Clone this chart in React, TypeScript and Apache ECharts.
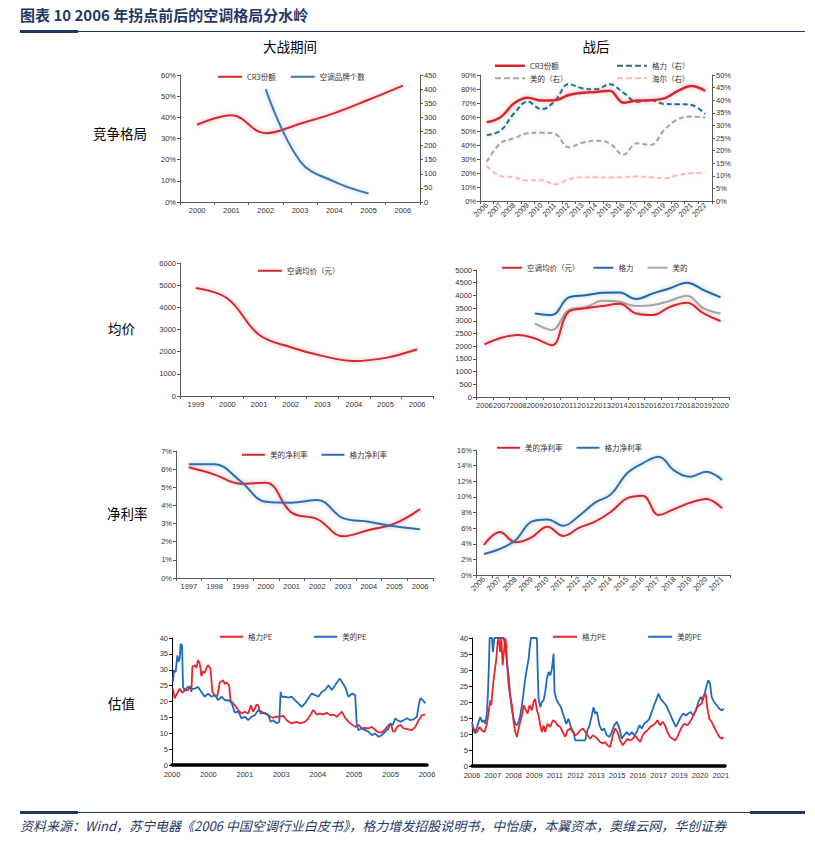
import React, { useEffect, useRef } from 'react';
import * as echarts from 'echarts';

// ---------- Data ----------
// Row 1 left: 大战期间 竞争格局
const warYears = ['2000', '2001', '2002', '2003', '2004', '2005', '2006'];
const warCr3 = [36.5, 41, 32.5, 37, 42, 48.3, 55];
const warBrandCount = [null, null, 400, 145, 72, 30, null];

// Row 1 right: 战后 竞争格局
const postYears = ['2006', '2007', '2008', '2009', '2010', '2011', '2012', '2013', '2014', '2015', '2016', '2017', '2018', '2019', '2020', '2021', '2022'];
const postCr3 = [56.2, 59.8, 69.8, 73.8, 71.7, 72, 75.7, 77.4, 77.9, 78.8, 70.2, 71.7, 72, 73.3, 78.6, 82.1, 78.6];
const postGreeShare = [26.2, 27.9, 34.8, 39.4, 36.4, 39.8, 46.4, 44.7, 44.3, 46.3, 43, 39.4, 40.1, 38.5, 38.4, 38.1, 34.5];
const postMideaShare = [15.6, 22.9, 24.9, 26.9, 27.1, 26.6, 21.3, 23.1, 23.9, 22.9, 18.3, 22.9, 22.2, 28.2, 32.4, 33.5, 33.1];
const postHaierShare = [13.9, 9.9, 9.4, 8.1, 8.3, 6.6, 8.6, 9.4, 9.4, 9.3, 9.4, 9.7, 9.4, 9.0, 10.3, 11.0, 11.2];

// Row 2 left: 大战期间 均价
const warPriceYears = ['1999', '2000', '2001', '2002', '2003', '2004', '2005', '2006'];
const warAcPrice = [4870, 4400, 2760, 2200, 1810, 1580, 1720, 2110];

// Row 2 right: 战后 均价
const postPriceYears = ['2006', '2007', '2008', '2009', '2010', '2011', '2012', '2013', '2014', '2015', '2016', '2017', '2018', '2019', '2020'];
const postAcPrice = [2070, 2330, 2440, 2300, 2040, 3360, 3490, 3580, 3670, 3290, 3230, 3550, 3710, 3290, 2990];
const postGreePrice = [null, null, null, 3290, 3230, 3920, 4010, 4100, 4110, 3860, 4080, 4280, 4500, 4210, 3920];
const postMideaPrice = [null, null, null, 2900, 2640, 3420, 3530, 3790, 3750, 3580, 3620, 3790, 3990, 3490, 3290];

// Row 3 left: 大战期间 净利率
const warMarginYears = ['1997', '1998', '1999', '2000', '2001', '2002', '2003', '2004', '2005', '2006'];
const warMideaMargin = [6.1, 5.7, 5.2, 5.25, 3.6, 3.25, 2.3, 2.65, 3.0, 3.8];
const warGreeMargin = [6.27, 6.27, 5.35, 4.2, 4.15, 4.3, 3.3, 3.1, 2.85, 2.68];

// Row 3 right: 战后 净利率
const postMarginYears = ['2006', '2007', '2008', '2009', '2010', '2011', '2012', '2013', '2014', '2015', '2016', '2017', '2018', '2019', '2020', '2021'];
const postMideaMargin = [3.84, 5.5, 4.18, 4.82, 6.19, 5.0, 6.06, 6.83, 8.1, 9.8, 10.15, 7.68, 8.45, 9.26, 9.73, 8.53];
const postGreeMargin = [2.69, 3.33, 4.48, 6.83, 7.12, 6.31, 7.59, 9.26, 10.32, 13.0, 14.3, 15.15, 13.35, 12.59, 13.22, 12.16];

// Row 4 left: 大战期间 估值 (position along axis in tick-label units, PE)
const warPeLabels = ['2000', '2000', '2001', '2003', '2004', '2005', '2005', '2006'];
const warGreePe = [
  [0.028, 24], [0.073, 21], [0.138, 22.5], [0.211, 24], [0.284, 22.8], [0.349, 23.5], [0.44, 23.6], [0.505, 24.8], [0.532, 23],
  [0.56, 31], [0.624, 31.4], [0.67, 30.5], [0.716, 33], [0.761, 32], [0.807, 28], [0.853, 29.5], [0.899, 29], [0.945, 30.5],
  [0.991, 31.4], [1.055, 30.4], [1.11, 23], [1.174, 22], [1.239, 21.5], [1.266, 23], [1.312, 26], [1.404, 26.7], [1.45, 25.5],
  [1.495, 26], [1.569, 25], [1.606, 20.4], [1.725, 18.8], [1.817, 17.3], [1.908, 16.2], [2.0, 16.8], [2.092, 16.2], [2.165, 18.8],
  [2.229, 16.8], [2.321, 19], [2.367, 18.8], [2.431, 16.2], [2.55, 16.5], [2.642, 15.7], [2.706, 15.2], [2.78, 14.9], [2.872, 15.2],
  [2.963, 15.2], [3.055, 15.5], [3.147, 14.1], [3.284, 13.1], [3.422, 13.6], [3.514, 13.1], [3.651, 13.6], [3.743, 14.7],
  [3.835, 16.5], [3.881, 17.3], [3.972, 15.9], [4.064, 16.2], [4.156, 15.9], [4.248, 16.5], [4.339, 15.7], [4.431, 15.9],
  [4.523, 15.2], [4.615, 16.2], [4.661, 16.8], [4.752, 14.9], [4.844, 13.6], [4.936, 12.8], [5.028, 12], [5.119, 12.6],
  [5.211, 11.5], [5.303, 11.7], [5.394, 11.5], [5.486, 12], [5.578, 11], [5.67, 10.3], [5.761, 10.3], [5.853, 11.3],
  [5.945, 12.6], [6.009, 13.1], [6.064, 10.5], [6.128, 10.7], [6.174, 12], [6.266, 12.6], [6.358, 11.5], [6.45, 11.3],
  [6.587, 11], [6.679, 12], [6.771, 14.1], [6.862, 15.7], [6.954, 15.9],
];
const warMideaPe = [
  [0.028, 26.2], [0.055, 29.8], [0.101, 29.3], [0.147, 34.5], [0.183, 32.5], [0.211, 33.5], [0.239, 38.2], [0.275, 37.7],
  [0.303, 24.6], [0.349, 23.6], [0.44, 24.6], [0.532, 24], [0.624, 24], [0.716, 24.6], [0.807, 23], [0.899, 21.5], [0.991, 22.5],
  [1.083, 21.5], [1.174, 22], [1.266, 20.4], [1.358, 21.5], [1.45, 20.4], [1.541, 20.4], [1.633, 19.7], [1.725, 16.5],
  [1.817, 16.8], [1.908, 14.7], [2.0, 15.2], [2.092, 14.1], [2.183, 15.2], [2.275, 15.7], [2.367, 17.3], [2.459, 16.8],
  [2.55, 16.2], [2.642, 15.7], [2.706, 13.6], [2.78, 14.1], [2.872, 13.1], [2.945, 13.6], [2.982, 23], [3.009, 21.5],
  [3.101, 21.5], [3.193, 21.2], [3.284, 21.5], [3.376, 20.4], [3.468, 19.4], [3.56, 18.3], [3.651, 19.4], [3.743, 21],
  [3.835, 22.5], [3.927, 22], [4.018, 21.5], [4.11, 23], [4.202, 23.6], [4.294, 25.1], [4.385, 23.6], [4.477, 25.1],
  [4.569, 26.7], [4.615, 27.2], [4.661, 26.2], [4.752, 24.6], [4.844, 21.5], [4.936, 22.5], [5.028, 22], [5.073, 12.6],
  [5.119, 11], [5.211, 11.5], [5.303, 11], [5.394, 10.5], [5.486, 9.4], [5.578, 9.9], [5.67, 8.9], [5.761, 9.4], [5.853, 10.5],
  [5.945, 11.5], [6.009, 13.1], [6.064, 12.6], [6.128, 14.7], [6.193, 14.1], [6.266, 13.6], [6.358, 14.1], [6.45, 14.7],
  [6.541, 14.1], [6.633, 14.4], [6.725, 15.2], [6.771, 18.8], [6.817, 21], [6.89, 20.4], [6.954, 19.4],
];

// Row 4 right: 战后 估值
const postPeLabels = ['2006', '2007', '2008', '2009', '2011', '2012', '2013', '2015', '2016', '2017', '2019', '2020', '2021'];
const postGreePe = [
  [0, 12.7], [0.08, 11.7], [0.241, 10.6], [0.369, 12.2], [0.482, 11.1], [0.61, 10.6], [0.722, 13.2], [0.803, 16.9], [0.883, 20.5],
  [0.931, 19], [1.011, 25.2], [1.091, 29.4], [1.172, 33.5], [1.236, 38.8], [1.284, 40], [1.364, 35.6], [1.413, 40], [1.477, 31.5],
  [1.525, 34.6], [1.605, 40], [1.653, 37.7], [1.685, 32.5], [1.766, 25.2], [1.846, 21.6], [1.926, 19], [2.006, 13.8], [2.087, 10.6],
  [2.167, 9.1], [2.247, 11.7], [2.327, 13.8], [2.408, 15.8], [2.488, 19], [2.568, 17.9], [2.681, 16.4], [2.777, 19], [2.889, 17.4],
  [2.97, 20], [3.05, 21], [3.13, 17.4], [3.21, 15.8], [3.291, 12.7], [3.371, 10.6], [3.451, 12.7], [3.531, 10.6], [3.644, 13.2],
  [3.772, 12.2], [3.9, 14.3], [4.013, 13.8], [4.125, 12.7], [4.254, 12.2], [4.382, 10.6], [4.494, 9.1], [4.607, 11.1],
  [4.735, 11.7], [4.864, 10.6], [4.976, 9.6], [5.088, 10.1], [5.217, 11.1], [5.345, 11.7], [5.457, 10.8], [5.57, 9.6],
  [5.698, 8.5], [5.827, 9.6], [5.939, 9.1], [6.051, 8.5], [6.18, 7.5], [6.308, 7.0], [6.421, 7.5], [6.533, 6.5], [6.661, 5.9],
  [6.79, 9.6], [6.902, 11.7], [7.014, 10.6], [7.143, 8.0], [7.271, 6.5], [7.384, 7.5], [7.496, 8.5], [7.624, 8.0], [7.753, 8.5],
  [7.865, 9.6], [7.978, 8.5], [8.106, 7.5], [8.234, 9.6], [8.347, 10.6], [8.459, 11.1], [8.587, 12.2], [8.716, 12.7],
  [8.828, 13.2], [8.941, 14.3], [9.069, 12.7], [9.197, 13.8], [9.31, 12.7], [9.422, 10.6], [9.551, 9.1], [9.679, 8.5],
  [9.791, 8.0], [9.904, 9.1], [10.032, 11.1], [10.161, 12.7], [10.273, 13.2], [10.385, 12.7], [10.514, 13.8], [10.642, 15.3],
  [10.754, 16.9], [10.867, 18.4], [10.963, 19], [11.075, 19.5], [11.156, 21.6], [11.268, 22.6], [11.348, 18], [11.445, 14.8],
  [11.557, 13.8], [11.669, 12.2], [11.798, 10.6], [11.926, 9.1], [12.039, 8.5], [12.119, 9.1],
];
const postMideaPe = [
  [0, 13.8], [0.08, 11.1], [0.161, 10.1], [0.241, 12.2], [0.321, 13.8], [0.401, 15.3], [0.482, 13.8], [0.562, 14.3], [0.642, 13.2],
  [0.722, 16.9], [0.77, 23.1], [0.819, 32.5], [0.851, 40], [0.963, 40], [1.011, 35.6], [1.075, 40], [1.525, 40], [1.605, 37.7],
  [1.685, 32.5], [1.766, 28.3], [1.846, 22.1], [1.926, 17.4], [2.006, 14.8], [2.087, 13.2], [2.167, 12.7], [2.247, 13.8],
  [2.327, 15.8], [2.408, 19], [2.488, 23.1], [2.568, 27.3], [2.648, 30.4], [2.729, 33.5], [2.777, 36.7], [2.841, 40], [3.13, 40],
  [3.162, 31.5], [3.21, 21], [3.291, 18.4], [3.371, 20], [3.451, 20.5], [3.531, 23.1], [3.612, 27.3], [3.692, 29.4], [3.772, 28.3],
  [3.852, 30.4], [3.9, 33], [3.933, 35.1], [3.981, 23.1], [4.061, 21], [4.173, 19.5], [4.286, 18.4], [4.414, 15.8], [4.543, 13.2],
  [4.655, 14.8], [4.767, 12.2], [4.896, 10.6], [4.976, 8.0], [5.457, 8.0], [5.538, 10.6], [5.666, 12.7], [5.778, 15.8],
  [5.859, 18.4], [5.939, 16.4], [6.019, 16.9], [6.148, 12.7], [6.26, 11.1], [6.372, 11.7], [6.501, 9.6], [6.629, 9.1],
  [6.742, 10.6], [6.854, 12.7], [6.982, 13.8], [7.111, 11.7], [7.223, 8.5], [7.335, 9.6], [7.464, 10.6], [7.592, 9.6],
  [7.705, 10.6], [7.817, 9.6], [7.945, 10.6], [8.074, 12.7], [8.186, 11.7], [8.299, 13.2], [8.427, 13.8], [8.555, 14.8],
  [8.668, 16.9], [8.78, 19], [8.876, 20.5], [8.989, 22.6], [9.101, 21], [9.23, 20], [9.358, 19], [9.47, 17.4], [9.583, 15.8],
  [9.711, 13.8], [9.839, 12.2], [9.952, 13.8], [10.064, 15.3], [10.193, 16.4], [10.321, 15.8], [10.433, 16.4], [10.546, 16.9],
  [10.674, 15.8], [10.803, 17.4], [10.915, 20], [11.027, 21.6], [11.124, 20.5], [11.236, 23.1], [11.316, 25.2], [11.396, 26.8],
  [11.477, 25.8], [11.557, 21.6], [11.669, 20], [11.798, 19], [11.926, 17.9], [12.039, 17.4], [12.151, 17.9],
];

// ---------- Styles ----------
const RED = '#d8262d';
const BLUE = '#2f6fae';
const GREE_DASH = '#2a6b95';
const GRAY = '#a6a6a6';
const PINK = '#f2bcb8';
const NAVY = '#1f3864';
const AXIS = '#595959';
const LABEL = '#333';
const FONT = '"Liberation Sans", "Noto Sans CJK SC", sans-serif';
const CJK = '"Noto Sans CJK SC", sans-serif';
const SOLID_ICON = 'rect';
const DASH_ICON = 'path://M0,0h6v2h-6zM9,0h6v2h-6zM18,0h6v2h-6zM27,0h3v2h-3z';

const pct = (v: number) => `${v}%`;
const plain = (v: number) => `${v}`;
const pickLabel = (labels: string[]) => (v: number) => {
  const r = Math.round(v);
  return Math.abs(v - r) < 1e-6 && labels[r] !== undefined ? labels[r] : '';
};

function catX(gridIndex: number, data: string[], rotate = 0) {
  return {
    type: 'category',
    gridIndex,
    data,
    boundaryGap: true,
    axisLine: { lineStyle: { color: AXIS, width: 1 } },
    axisTick: { show: true, length: 3, lineStyle: { color: AXIS } },
    axisLabel: { interval: 0, fontSize: 7.5, color: LABEL, rotate, margin: rotate ? 3 : 5, fontFamily: FONT },
    splitLine: { show: false },
  };
}

function valY(gridIndex: number, min: number, max: number, interval: number, formatter: any, position = 'left', axisColor = AXIS) {
  return {
    type: 'value',
    gridIndex,
    min,
    max,
    interval,
    position,
    axisLine: { show: true, lineStyle: { color: axisColor, width: 1 } },
    axisTick: { show: true, length: 3, lineStyle: { color: axisColor } },
    axisLabel: { fontSize: 7.5, color: LABEL, margin: 4, fontFamily: FONT, formatter },
    splitLine: { show: false },
  };
}

function line(name: string, xi: number, yi: number, data: any[], color: string, width = 2, type: any = 'solid', smooth: any = 0.4, glow = true) {
  return {
    type: 'line',
    name,
    xAxisIndex: xi,
    yAxisIndex: yi,
    data,
    smooth,
    symbol: 'none',
    itemStyle: { color },
    lineStyle: glow
      ? { color, width, type, shadowColor: echarts.color.modifyAlpha(color, 0.35), shadowBlur: 4 }
      : { color, width, type },
  };
}

function legend(left: number, top: number, data: any[], itemWidth: number, itemGap: number, orient = 'horizontal', itemHeight = 2) {
  return {
    left,
    top,
    orient,
    padding: 0,
    itemWidth,
    itemHeight,
    itemGap,
    data,
    selectedMode: false,
    textStyle: { fontSize: 7.5, color: LABEL, fontFamily: CJK },
  };
}

const S = (name: string) => ({ name, icon: SOLID_ICON });
const D = (name: string) => ({ name, icon: DASH_ICON });

function txt(text: string, x: number, y: number, font: string, fill = '#000', align = 'left') {
  return { type: 'text', x, y, silent: true, style: { text, font, fill, textAlign: align, textVerticalAlign: 'middle' } };
}

export default function App() {
  const ref = useRef<HTMLDivElement>(null);
  useEffect(() => {
    if (!ref.current) return;
    const chart = echarts.init(ref.current, undefined, { renderer: 'svg' });
    const option: any = {
      animation: false,
      backgroundColor: '#ffffff',
      textStyle: { fontFamily: FONT },
      grid: [
        { left: 180, top: 75, width: 240, height: 127 },
        { left: 480, top: 75, width: 232, height: 126 },
        { left: 180, top: 263, width: 253, height: 133 },
        { left: 476, top: 270, width: 253, height: 127 },
        { left: 176, top: 451, width: 257, height: 127 },
        { left: 476, top: 450, width: 254, height: 125 },
        { left: 172, top: 638, width: 255, height: 127 },
        { left: 472, top: 638, width: 253, height: 128 },
      ],
      xAxis: [
        catX(0, warYears),
        catX(1, postYears, 45),
        catX(2, warPriceYears),
        catX(3, postPriceYears),
        catX(4, warMarginYears),
        catX(5, postMarginYears, 45),
        {
          type: 'value', gridIndex: 6, min: 0, max: 7, interval: 1,
          axisLine: { onZero: false, lineStyle: { color: '#000', width: 3.5 } },
          axisTick: { show: false },
          axisLabel: { fontSize: 7.5, color: LABEL, margin: 6, fontFamily: FONT, formatter: pickLabel(warPeLabels) },
          splitLine: { show: false },
        },
        {
          type: 'value', gridIndex: 7, min: 0, max: 12.2, interval: 1,
          axisLine: { onZero: false, lineStyle: { color: '#000', width: 3.5 } },
          axisTick: { show: false },
          axisLabel: { fontSize: 7.5, color: LABEL, margin: 6, fontFamily: FONT, showMaxLabel: false, formatter: pickLabel(postPeLabels) },
          splitLine: { show: false },
        },
      ],
      yAxis: [
        valY(0, 0, 60, 10, pct),
        valY(0, 0, 450, 50, plain, 'right'),
        valY(1, 0, 90, 10, pct),
        valY(1, 0, 50, 5, pct, 'right'),
        valY(2, 0, 6000, 1000, plain),
        valY(3, 0, 5000, 500, plain),
        valY(4, 0, 7, 1, pct),
        valY(5, 0, 16, 2, pct),
        valY(6, 0, 40, 5, plain, 'left', '#000'),
        valY(7, 0, 40, 5, plain, 'left', '#000'),
      ],
      legend: [
        legend(218, 73, [S('CR3份额'), S('空调品牌个数')], 24, 15),
        legend(495, 62, [S('CR3份额'), D('美的（右）')], 30, 5, 'vertical', 2.5),
        legend(617, 62, [D('格力（右）'), D('海尔（右）')], 30, 5, 'vertical', 2.5),
        legend(258, 267, [S('空调均价（元）')], 24, 14),
        legend(502, 264, [S('空调均价（元）'), S('格力'), S('美的')], 20, 14),
        legend(242, 451, [S('美的净利率'), S('格力净利率')], 23, 14),
        legend(497, 444, [S('美的净利率'), S('格力净利率')], 23, 14),
        legend(220, 633, [S('格力PE'), S('美的PE')], 23, 42),
        legend(553, 633, [S('格力PE'), S('美的PE')], 24, 42),
      ],
      series: [
        line('CR3份额', 0, 0, warCr3, RED, 2),
        line('空调品牌个数', 0, 1, warBrandCount, '#3a78b6', 2),
        line('美的（右）', 1, 3, postMideaShare, GRAY, 2, [5, 3]),
        line('海尔（右）', 1, 3, postHaierShare, PINK, 2, [5, 3]),
        line('格力（右）', 1, 3, postGreeShare, GREE_DASH, 2, [5, 3]),
        line('CR3份额', 1, 2, postCr3, RED, 2.5),
        line('空调均价（元）', 2, 4, warAcPrice, RED, 2),
        line('美的', 3, 5, postMideaPrice, GRAY, 2),
        line('格力', 3, 5, postGreePrice, '#2068ad', 2),
        line('空调均价（元）', 3, 5, postAcPrice, RED, 2),
        line('美的净利率', 4, 6, warMideaMargin, RED, 2),
        line('格力净利率', 4, 6, warGreeMargin, BLUE, 2),
        line('美的净利率', 5, 7, postMideaMargin, RED, 2),
        line('格力净利率', 5, 7, postGreeMargin, BLUE, 2),
        line('格力PE', 6, 8, warGreePe, '#e8252b', 1.8, 'solid', false, false),
        line('美的PE', 6, 8, warMideaPe, '#1f6cbf', 1.8, 'solid', false, false),
        line('美的PE', 7, 9, postMideaPe, '#1f6cbf', 1.8, 'solid', false, false),
        line('格力PE', 7, 9, postGreePe, '#e8252b', 1.8, 'solid', false, false),
      ],
      graphic: [
        txt('图表 10 2006 年拐点前后的空调格局分水岭', 20, 14, 'bold 15px "Noto Sans CJK SC", sans-serif', NAVY),
        { type: 'line', silent: true, shape: { x1: 20, y1: 31.5, x2: 805, y2: 31.5 }, style: { stroke: NAVY, lineWidth: 1 } },
        { type: 'rect', silent: true, shape: { x: 20, y: 30, width: 58, height: 3 }, style: { fill: NAVY } },
        txt('大战期间', 290, 46, '13.5px "Noto Sans CJK SC", sans-serif', '#000', 'center'),
        txt('战后', 596, 46, '13.5px "Noto Sans CJK SC", sans-serif', '#000', 'center'),
        txt('竞争格局', 93, 133, '13.5px "Noto Sans CJK SC", sans-serif'),
        txt('均价', 108, 328, '13.5px "Noto Sans CJK SC", sans-serif'),
        txt('净利率', 107, 513, '13.5px "Noto Sans CJK SC", sans-serif'),
        txt('估值', 108, 703, '13.5px "Noto Sans CJK SC", sans-serif'),
        { type: 'line', silent: true, shape: { x1: 20, y1: 812.5, x2: 805, y2: 812.5 }, style: { stroke: NAVY, lineWidth: 1 } },
        { type: 'rect', silent: true, shape: { x: 20, y: 811, width: 58, height: 3 }, style: { fill: NAVY } },
        { type: 'rect', silent: true, shape: { x: 750, y: 811, width: 55, height: 3 }, style: { fill: NAVY } },
        txt('资料来源：Wind，苏宁电器《2006 中国空调行业白皮书》，格力增发招股说明书，中怡康，本翼资本，奥维云网，华创证券', 20, 825, 'italic 13px "Noto Sans CJK SC", sans-serif', NAVY),
      ],
    };
    chart.setOption(option);
    return () => chart.dispose();
  }, []);
  return <div ref={ref} style={{ position: 'absolute', left: 0, top: 0, width: 815, height: 845 }} />;
}
